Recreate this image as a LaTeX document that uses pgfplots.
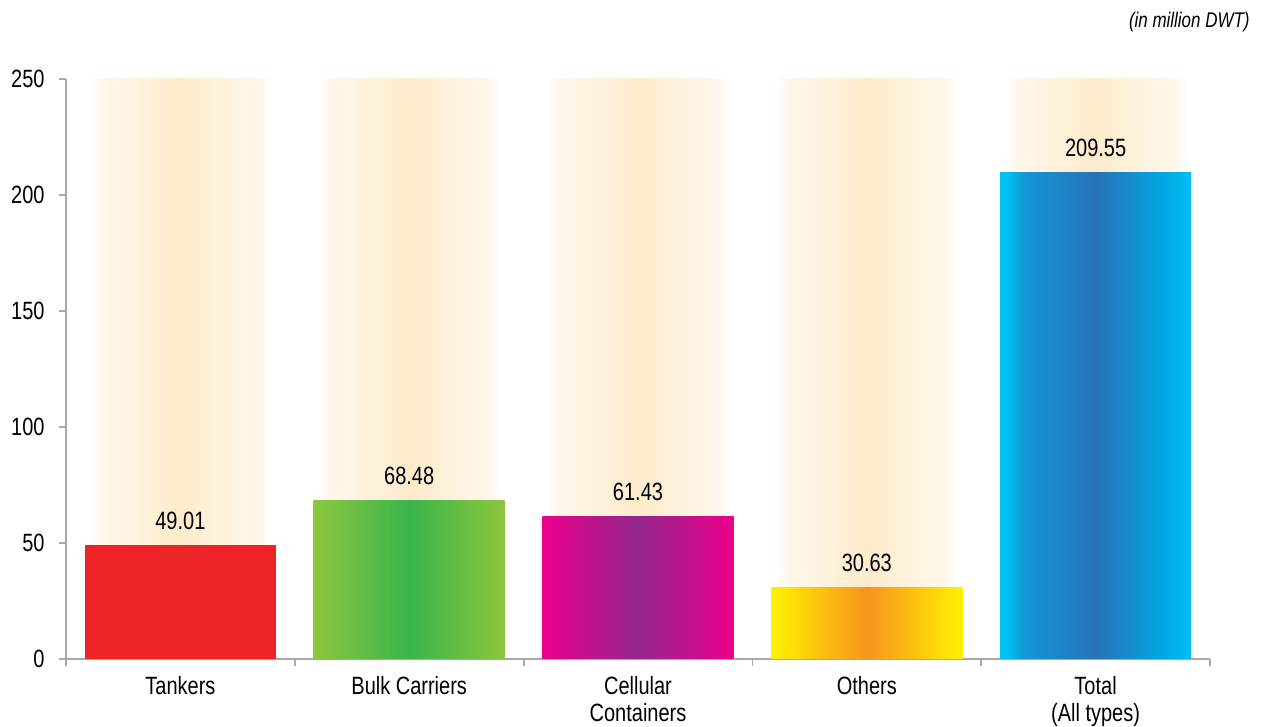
\documentclass[border=0pt]{standalone}
\usepackage{pgfplots}
\pgfplotsset{compat=1.18}
\usepackage{fontspec}
\setmainfont{Liberation Sans}[FakeStretch=0.8]
\definecolor{axisgray}{HTML}{A8A8A8}
\definecolor{bgpeach}{HTML}{FEEBCC}
\definecolor{tankred}{HTML}{EE2326}
\definecolor{bulkedge}{HTML}{8DC63F}
\definecolor{bulkmid}{HTML}{39B54A}
\definecolor{celledge}{HTML}{EC008C}
\definecolor{cellmid}{HTML}{92278F}
\definecolor{othedge}{HTML}{FFF200}
\definecolor{othmid}{HTML}{F7941D}
\definecolor{totedge}{HTML}{00C0F0}
\definecolor{totmid}{HTML}{2872B8}
\definecolor{totleft}{HTML}{1298D6}
\definecolor{totright}{HTML}{00A8E6}
\pgfdeclarehorizontalshading{totshade}{100bp}{color(0bp)=(totedge); color(25bp)=(totedge); color(27bp)=(totedge); color(31bp)=(totleft); color(50bp)=(totmid); color(68bp)=(totright); color(75bp)=(totedge); color(100bp)=(totedge)}
\pgfdeclarehorizontalshading{bgshade}{100bp}{color(0bp)=(white); color(25bp)=(white); color(27bp)=(bgpeach!35); color(50bp)=(bgpeach); color(73bp)=(bgpeach!35); color(75bp)=(white); color(100bp)=(white)}
\begin{document}
\begin{tikzpicture}
\begin{axis}[
  scale only axis, width=572pt, height=290pt,
  xmin=-0.5, xmax=4.5, ymin=0, ymax=250,
  axis x line*=bottom, axis y line*=left,
  axis line style={draw=axisgray, line width=0.9pt, -},
  xtick={-0.5,0.5,1.5,2.5,3.5,4.5},
  x tick label as interval,
  xticklabels={Tankers, Bulk Carriers, Cellular\\Containers, Others, Total\\(All types)},
  ytick={0,50,100,150,200,250},
  tick align=outside,
  major tick length=3.5pt,
  tick style={draw=axisgray, line width=0.9pt},
  tick label style={font=\fontsize{12.5}{13.5}\selectfont, text=black},
  xticklabel style={align=center, anchor=north, inner sep=0pt, yshift=-5pt},
  yticklabel style={anchor=east, inner sep=0pt, xshift=-7pt},
  /pgf/number format/assume math mode=true,
  nodes near coords style={anchor=base, inner sep=0pt, yshift=8pt, text=black, font=\fontsize{12.5}{15}\selectfont},
]
% background columns (half width 0.3935 around each category)
\addplot[draw=none, shade, shading=bgshade, forget plot] coordinates {(-0.3935,250) (0.3935,250)} \closedcycle;
\addplot[draw=none, shade, shading=bgshade, forget plot] coordinates {(0.6065,250) (1.3935,250)} \closedcycle;
\addplot[draw=none, shade, shading=bgshade, forget plot] coordinates {(1.6065,250) (2.3935,250)} \closedcycle;
\addplot[draw=none, shade, shading=bgshade, forget plot] coordinates {(2.6065,250) (3.3935,250)} \closedcycle;
\addplot[draw=none, shade, shading=bgshade, forget plot] coordinates {(3.6065,250) (4.3935,250)} \closedcycle;
% data bars (half width 0.4175 around each category)
\addplot[draw=none, fill=tankred, forget plot] coordinates {(-0.4175,49.01) (0.4175,49.01)} \closedcycle;
\addplot[draw=none, left color=bulkedge, right color=bulkedge, middle color=bulkmid, forget plot] coordinates {(0.5825,68.48) (1.4175,68.48)} \closedcycle;
\addplot[draw=none, left color=celledge, right color=celledge, middle color=cellmid, forget plot] coordinates {(1.5825,61.43) (2.4175,61.43)} \closedcycle;
\addplot[draw=none, left color=othedge, right color=othedge, middle color=othmid, forget plot] coordinates {(2.5825,30.63) (3.4175,30.63)} \closedcycle;
\addplot[draw=none, shade, shading=totshade, forget plot] coordinates {(3.5825,209.55) (4.4175,209.55)} \closedcycle;
% value labels
\addplot[draw=none, mark=none, nodes near coords, point meta=explicit symbolic, forget plot]
  coordinates {(0,49.01) [49.01] (1,68.48) [68.48] (2,61.43) [61.43] (3,30.63) [30.63] (4,209.55) [209.55]};
\end{axis}
\node[anchor=base east, inner sep=0pt, font=\fontsize{10.6}{12}\selectfont\itshape] at ([xshift=20pt,yshift=25.5pt]current axis.north east) {(in million DWT)};
\path (current axis.south west) ++(-33pt,-33.5pt) rectangle ++(633pt,363pt);
\end{tikzpicture}
\end{document}
